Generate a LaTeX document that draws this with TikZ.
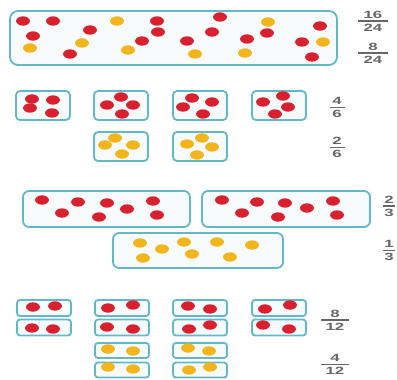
\documentclass[tikz,border=0pt]{standalone}
\usepackage{fontspec}
\setmainfont{Liberation Sans}
\definecolor{boxline}{HTML}{62B8C6}
\definecolor{boxfill}{HTML}{F7FBFC}
\definecolor{dotred}{HTML}{D8202E}
\definecolor{dotyel}{HTML}{F2B51C}
\definecolor{numgray}{HTML}{666666}
\tikzset{
  grp/.style={draw=boxline, fill=boxfill, line width=1.8pt, rounded corners=#1, inner sep=0pt},
  rdot/.style={fill=dotred},
  ydot/.style={fill=dotyel},
  numtxt/.style={font=\fontsize{10.5}{10.5}\selectfont\bfseries, text=numgray, inner sep=0pt, xscale=1.6},
  fracbar/.style={draw=numgray, line width=1.1pt}
}
% fraction: name, x, bar y, numerator, denominator, bar width
\newcommand\fracmark[6]{%
  \draw[fracbar] (#2-#6/2,#3) coordinate (#1-l) -- (#2+#6/2,#3) coordinate (#1-r);
  \node[numtxt, anchor=south] (#1-n) at (#2,#3-2.5) {#4};
  \node[numtxt, anchor=north] (#1-d) at (#2,#3+2.5) {#5};
}
% counters: style, list of centres
\newcommand\counters[2]{\foreach \p in {#2} \fill[#1] \p ellipse [x radius=6.9pt, y radius=4.7pt];}
\begin{document}
\begin{tikzpicture}[x=1pt, y=-1pt]
\useasboundingbox (0,0) rectangle (397,380);

% --- all 24 counters in one group
\node[grp=8pt, minimum width=327pt, minimum height=54pt] (whole) at (173.5,38) {};
\counters{rdot}{(23,21),(53,21),(157,21),(220,17),(320,26),(33,36),(90,30),(158,32),(212,32),(267,33),(142,41),(187,41),(247,39),(302,42),(70,54),(312,57)}
\counters{ydot}{(117,21),(268,22),(82,43),(30,48),(128,50),(195,54),(245,53),(323,42)}
\fracmark{f1}{373}{21}{16}{24}{30}
\fracmark{f2}{373}{53}{8}{24}{30}

% --- groups of four
\foreach \cx/\nm in {43/s1,121/s2,200/s3,279/s4}
  \node[grp=4pt, minimum width=54pt, minimum height=29pt] (\nm) at (\cx,105.5) {};
\foreach \cx/\nm in {121/t2,200/t3}
  \node[grp=4pt, minimum width=54pt, minimum height=29pt] (\nm) at (\cx,146.5) {};
\counters{rdot}{(32,99),(53,100),(30,108),(52,113),
  (121,97),(107,105),(133,105),(122,114),
  (192,98),(212,102),(183,107),(203,114),
  (283,96),(263,102),(288,107),(275,114)}
\counters{ydot}{(115,138),(105,145),(133,145),(122,154),
  (202,138),(187,144),(212,147),(197,155)}
\fracmark{f3}{337}{107.5}{4}{6}{15}
\fracmark{f4}{337}{147.5}{2}{6}{15}

% --- groups of eight
\node[grp=6pt, minimum width=167pt, minimum height=36pt] (h1) at (106.5,209) {};
\node[grp=6pt, minimum width=168pt, minimum height=36pt] (h2) at (286,209) {};
\node[grp=6pt, minimum width=170pt, minimum height=35pt] (h3) at (198,250.5) {};
\counters{rdot}{(42,200),(78,202),(107,203),(153,201),(62,213),(127,209),(99,217),(157,215),
  (222,200),(257,202),(285,203),(333,201),(242,213),(307,208),(278,217),(337,215)}
\counters{ydot}{(140,243),(162,249),(184,242),(217,242),(252,245),(143,258),(192,254),(230,257)}
\fracmark{f5}{389}{206}{2}{3}{12}
\fracmark{f6}{389}{250.5}{1}{3}{12}

% --- groups of two
\foreach \cx/\k in {44/1,122/2,200/3,279/4}{
  \node[grp=3pt, minimum width=54pt, minimum height=16pt] (p\k a) at (\cx,308) {};
  \node[grp=3pt, minimum width=54pt, minimum height=16pt] (p\k b) at (\cx,327.5) {};
}
\foreach \cx/\k in {122/2,200/3}{
  \node[grp=3pt, minimum width=54pt, minimum height=15pt] (q\k a) at (\cx,350.5) {};
  \node[grp=3pt, minimum width=54pt, minimum height=15pt] (q\k b) at (\cx,370) {};
}
\counters{rdot}{(33,307),(55,306),(32,328),(53,329),
  (108,308),(133,305),(107,327),(133,329),
  (188,306),(210,309),(189,329),(210,325),
  (265,309),(290,305),(263,325),(289,329)}
\counters{ydot}{(108,349),(133,351),(108,367),(133,369),
  (188,348),(209,351),(189,370),(210,367)}
\fracmark{f7}{335}{320}{8}{12}{28}
\fracmark{f8}{335}{364.5}{4}{12}{28}
\end{tikzpicture}
\end{document}
